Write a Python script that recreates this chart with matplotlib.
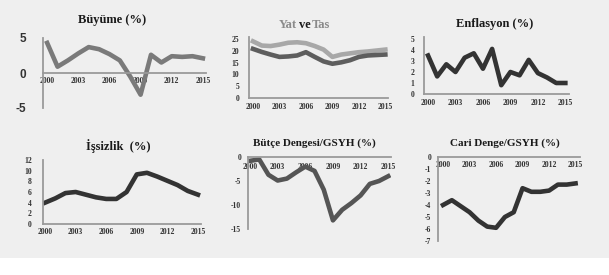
import matplotlib.pyplot as plt
from matplotlib.patches import Rectangle

plt.rcParams["axes.unicode_minus"] = False

years = list(range(2000, 2016))

buyume = [4.3, 0.9, 1.8, 2.8, 3.7, 3.4, 2.7, 1.8, -0.5, -3.1, 2.6, 1.5, 2.4, 2.3, 2.4, 2.1]
yatirim = [24.0, 22.2, 22.0, 22.6, 23.4, 23.6, 23.2, 22.0, 20.5, 17.4, 18.4, 18.9, 19.4, 19.7, 20.1, 20.5]
tasarruf = [20.8, 19.5, 18.4, 17.4, 17.6, 18.0, 19.4, 17.4, 15.5, 14.5, 15.1, 16.0, 17.4, 18.0, 18.2, 18.4]
enflasyon = [3.5, 1.6, 2.7, 2.0, 3.3, 3.7, 2.3, 4.1, 0.8, 2.0, 1.7, 3.1, 1.9, 1.5, 1.0, 1.0]
issizlik = [4.0, 4.8, 5.8, 6.0, 5.5, 5.0, 4.7, 4.7, 6.0, 9.3, 9.6, 8.9, 8.1, 7.3, 6.2, 5.5]
butce = [-0.8, -0.5, -3.7, -4.9, -4.5, -3.2, -2.0, -2.9, -6.8, -13.2, -11.0, -9.6, -8.0, -5.6, -5.0, -4.0]
cari = [-4.0, -3.6, -4.1, -4.6, -5.3, -5.8, -5.9, -5.0, -4.6, -2.6, -2.9, -2.9, -2.8, -2.3, -2.3, -2.2]

xt = [2000, 2003, 2006, 2009, 2012, 2015]

W, H = 609, 275
fig = plt.figure(figsize=(W / 100, H / 100), dpi=100, facecolor="white")
fig.patches.append(Rectangle((0, 1 - 258 / H), 1, 258 / H, transform=fig.transFigure,
                             facecolor="#efefef", edgecolor="none", zorder=-10))

serif = "Liberation Serif"


def axpx(left, top, right, bottom):
    ax = fig.add_axes([left / W, 1 - bottom / H, (right - left) / W, (bottom - top) / H])
    ax.patch.set_visible(False)
    for s in ["top", "right"]:
        ax.spines[s].set_visible(False)
    for s in ["left", "bottom"]:
        ax.spines[s].set_color("#9a9a9a")
        ax.spines[s].set_linewidth(1.3)
    return ax


def style(ax, xlim, ylim, yticks, ypad, xpad=3.5, yfont=None):
    ax.set_xlim(*xlim)
    ax.set_ylim(*ylim)
    ax.set_xticks(xt)
    ax.set_yticks(yticks)
    ax.tick_params(length=0)
    ax.tick_params(axis="x", pad=xpad)
    ax.tick_params(axis="y", pad=ypad)
    for lab in ax.get_xticklabels():
        lab.set_fontfamily(serif)
        lab.set_fontweight("bold")
        lab.set_fontsize(5.5)
        lab.set_color("#333333")
    for lab in ax.get_yticklabels():
        if yfont is None:
            lab.set_fontfamily(serif)
            lab.set_fontsize(5.5)
        else:
            lab.set_fontfamily(yfont)
            lab.set_fontsize(8.5)
        lab.set_fontweight("bold")
        lab.set_color("#333333")


def title(x, y, text, size=8.5, color="#1a1a1a"):
    fig.text(x / W, 1 - y / H, text, ha="center", va="center", fontfamily=serif,
             fontweight="bold", fontsize=size, color=color)


# Büyüme
ax1 = axpx(43, 38, 206, 108)
ax1.plot(years, buyume, color="#7a7a7a", lw=3.3)
ax1.spines["bottom"].set_position(("data", 0))
style(ax1, (1999.6, 2015.3), (-5, 5), [-5, 0, 5], 12, xpad=3, yfont="Liberation Sans")
title(112, 20, "Büyüme (%)", size=9)

# Yat ve Tas
ax2 = axpx(249, 36.6, 388, 98)
ax2.plot(years, yatirim, color="#a8a8a8", lw=3.3)
ax2.plot(years, tasarruf, color="#5e5e5e", lw=3.3)
style(ax2, (1999.55, 2015.3), (0, 26), [0, 5, 10, 15, 20, 25], 7)
fig.text(297 / W, 1 - 25 / H, "Yat", ha="right", va="center", fontfamily=serif,
         fontweight="bold", fontsize=9, color="#8a8a8a")
fig.text(304.5 / W, 1 - 25 / H, "ve", ha="center", va="center", fontfamily=serif,
         fontweight="bold", fontsize=9, color="#1a1a1a")
fig.text(312 / W, 1 - 25 / H, "Tas", ha="left", va="center", fontfamily=serif,
         fontweight="bold", fontsize=9, color="#8a8a8a")

# Enflasyon
ax3 = axpx(424, 36.8, 569, 94)
ax3.plot(years, enflasyon, color="#333333", lw=3.3)
style(ax3, (1999.56, 2015.4), (0, 5.2), [0, 1, 2, 3, 4, 5], 7)
title(495, 24, "Enflasyon (%)", size=9)

# İşsizlik
ax4 = axpx(43, 160, 201, 224)
ax4.plot(years, issizlik, color="#333333", lw=3.3)
style(ax4, (1999.8, 2015.3), (0, 12), [0, 2, 4, 6, 8, 10, 12], 8, xpad=3)
title(118, 146, "İşsizlik  (%)", size=9)

# Bütçe Dengesi
ax5 = axpx(248, 157, 391, 229)
ax5.plot(years, butce, color="#555555", lw=3.3)
ax5.spines["bottom"].set_position(("data", 0))
style(ax5, (1999.78, 2015.3), (-15, 0), [-15, -10, -5, 0], 5, xpad=4)
title(314, 143, "Bütçe Dengesi/GSYH (%)", size=8)

# Cari Denge
ax6 = axpx(438, 157, 580, 241)
ax6.plot(years, cari, color="#333333", lw=3.3)
ax6.spines["bottom"].set_position(("data", 0))
style(ax6, (1999.43, 2015.5), (-7, 0), list(range(-7, 1)), 5, xpad=3)
title(505, 143, "Cari Denge/GSYH (%)", size=8)

fig.savefig("out.png", dpi=100, facecolor=fig.get_facecolor())
